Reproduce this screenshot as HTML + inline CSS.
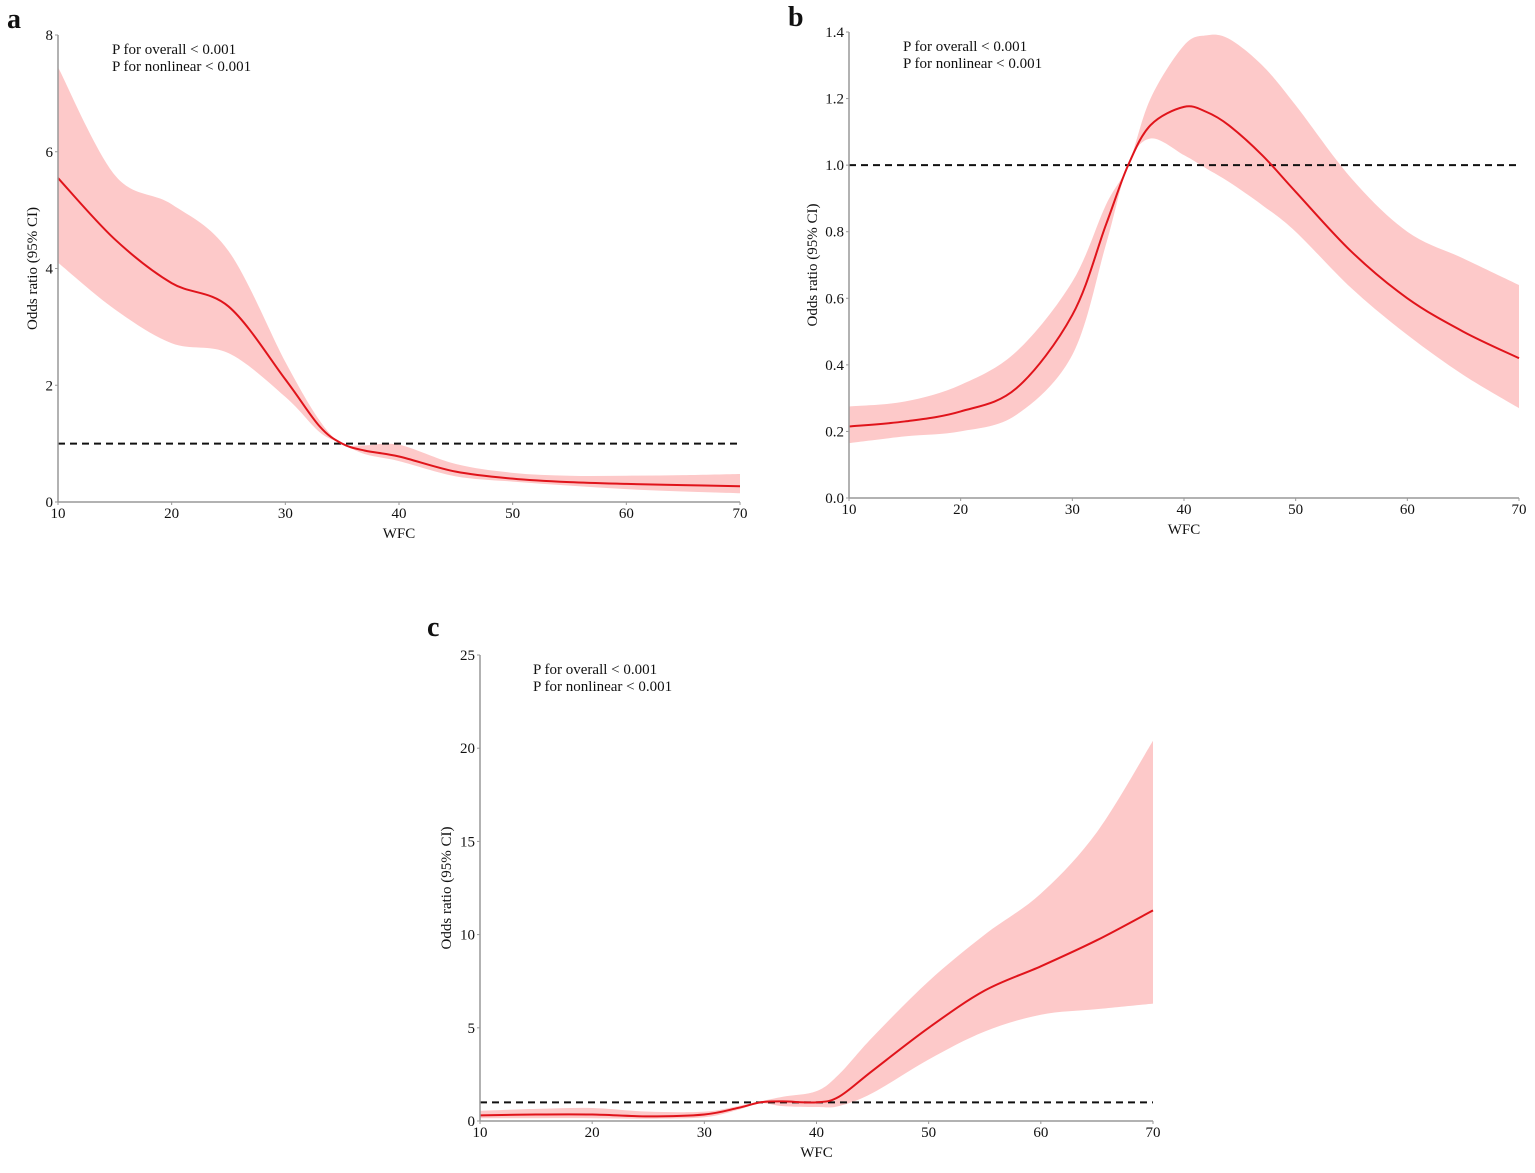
<!DOCTYPE html>
<html><head><meta charset="utf-8"><style>
body{margin:0;background:#fff;}
svg text{font-family:"Liberation Serif",serif;fill:#111;}
</style></head><body>
<svg id="s" width="1535" height="1168" xmlns="http://www.w3.org/2000/svg"></svg>
<script>
const aX=[10,15,20,25,30,33,35,37,40,45,50,55,60,65,70];
const aFit=[5.55,4.5,3.75,3.35,2.1,1.3,1.0,0.88,0.78,0.52,0.4,0.34,0.31,0.29,0.27];
const aUp=[7.45,5.6,5.1,4.3,2.4,1.4,1.0,0.97,0.98,0.65,0.5,0.45,0.45,0.46,0.48];
const aLo=[4.1,3.3,2.72,2.55,1.8,1.2,1.0,0.82,0.7,0.44,0.35,0.28,0.22,0.18,0.15];
const aYT=[0,2,4,6,8];
const bX=[10,15,20,25,30,33,35,37,40,42,44,47,50,55,60,65,70];
const bFit=[0.215,0.23,0.26,0.33,0.55,0.82,1.0,1.12,1.175,1.16,1.12,1.03,0.92,0.74,0.6,0.5,0.42];
const bUp=[0.275,0.29,0.34,0.44,0.65,0.88,1.0,1.2,1.36,1.39,1.38,1.3,1.18,0.96,0.8,0.72,0.64];
const bLo=[0.165,0.185,0.2,0.25,0.43,0.76,1.0,1.08,1.03,0.99,0.95,0.88,0.8,0.63,0.49,0.37,0.27];
const bYT=[0,0.2,0.4,0.6,0.8,1.0,1.2,1.4];
const cX=[10,15,20,25,30,33,35,37,40,42,45,50,55,60,65,70];
const cFit=[0.3,0.35,0.35,0.25,0.35,0.7,1.0,1.05,1.0,1.3,2.7,5.0,7.0,8.3,9.7,11.3];
const cUp=[0.55,0.65,0.7,0.5,0.5,0.8,1.05,1.3,1.6,2.5,4.5,7.5,10.0,12.2,15.5,20.4];
const cLo=[0.15,0.15,0.15,0.12,0.2,0.6,0.95,0.8,0.75,0.8,1.5,3.3,4.8,5.7,6.0,6.3];
const cYT=[0,5,10,15,20,25];
const xT=[10,20,30,40,50,60,70];
const NS="http://www.w3.org/2000/svg";
const svg=document.getElementById('s');
function mk(t,a,p){const e=document.createElementNS(NS,t);for(const k in a)e.setAttribute(k,a[k]);(p||svg).appendChild(e);return e;}
function smooth(pts,move){let d=(move===false?"L":"M")+pts[0][0]+","+pts[0][1];for(let i=0;i<pts.length-1;i++){const p0=pts[Math.max(0,i-1)],p1=pts[i],p2=pts[i+1],p3=pts[Math.min(pts.length-1,i+2)];const c1=[p1[0]+(p2[0]-p0[0])/6,p1[1]+(p2[1]-p0[1])/6],c2=[p2[0]-(p3[0]-p1[0])/6,p2[1]-(p3[1]-p1[1])/6];d+=" C"+c1+" "+c2+" "+p2;}return d;}
function panel(o){
 const sx=v=>o.x0+(v-10)/60*(o.x1-o.x0), sy=v=>o.y0-(v/o.ymax)*(o.y0-o.y1);
 const g=mk('g',{});
 
 
 const up=o.X.map((x,i)=>[sx(x),sy(o.U[i])]), lo=o.X.map((x,i)=>[sx(x),sy(o.L[i])]).reverse();
 const band=mk('path',{d:smooth(up)+" "+smooth(lo,false)+" Z",fill:'#fdc9c9',stroke:'none'},g);
 
 
 const ref=mk('line',{x1:o.x0,x2:o.x1,y1:sy(1),y2:sy(1),stroke:'#111','stroke-width':2,'stroke-dasharray':'7,5'},g);
 
 
 const fit=mk('path',{d:smooth(o.X.map((x,i)=>[sx(x),sy(o.F[i])])),fill:'none',stroke:'#e0141b','stroke-width':2},g);
 
 
 mk('line',{x1:o.x0,x2:o.x0,y1:o.y0,y2:o.y1,stroke:'#999','stroke-width':1.5},g);
 mk('line',{x1:o.x0,x2:o.x1,y1:o.y0,y2:o.y0,stroke:'#999','stroke-width':1.5},g);
 o.YT.forEach(v=>{mk('line',{x1:o.x0-3,x2:o.x0,y1:sy(v),y2:sy(v),stroke:'#999'},g);const t=mk('text',{x:o.x0-5,y:sy(v)+5,'text-anchor':'end','font-size':15},g);t.textContent=v.toFixed(o.dec);});
 xT.forEach(v=>{mk('line',{x1:sx(v),x2:sx(v),y1:o.y0,y2:o.y0+3,stroke:'#999'},g);const t=mk('text',{x:sx(v),y:o.y0+16,'text-anchor':'middle','font-size':15},g);t.textContent=v;});
 const xt=mk('text',{x:(o.x0+o.x1)/2,y:o.y0+36,'text-anchor':'middle','font-size':15},g);xt.textContent='WFC';
 
 
 const yc=(o.y0+o.y1)/2, tx=o.x0-o.toff;
 const yt=mk('text',{x:tx,y:yc,'text-anchor':'middle','font-size':15,transform:`rotate(-90 ${tx} ${yc})`},g);yt.textContent='Odds ratio (95% CI)';
 
 
 const p1=mk('text',{x:o.px,y:o.py,'font-size':15},g);p1.textContent='P for overall < 0.001';
 
 
 const p2=mk('text',{x:o.px,y:o.py+17,'font-size':15},g);p2.textContent='P for nonlinear < 0.001';
 
 
 const lb=mk('text',{x:o.lx,y:o.ly,'font-size':28,'font-weight':'bold'},g);lb.textContent=o.id;
 
 
}
panel({id:'a',x0:58,x1:740,y0:502,y1:35,ymax:8,X:aX,F:aFit,U:aUp,L:aLo,YT:aYT,dec:0,toff:21,px:112,py:54,lx:7,ly:28});
panel({id:'b',x0:849,x1:1519,y0:498,y1:32,ymax:1.4,X:bX,F:bFit,U:bUp,L:bLo,YT:bYT,dec:1,toff:32,px:903,py:51,lx:788,ly:26});
panel({id:'c',x0:480,x1:1153,y0:1121,y1:655,ymax:25,X:cX,F:cFit,U:cUp,L:cLo,YT:cYT,dec:0,toff:29,px:533,py:674,lx:427,ly:636});
</script>
</body></html>
